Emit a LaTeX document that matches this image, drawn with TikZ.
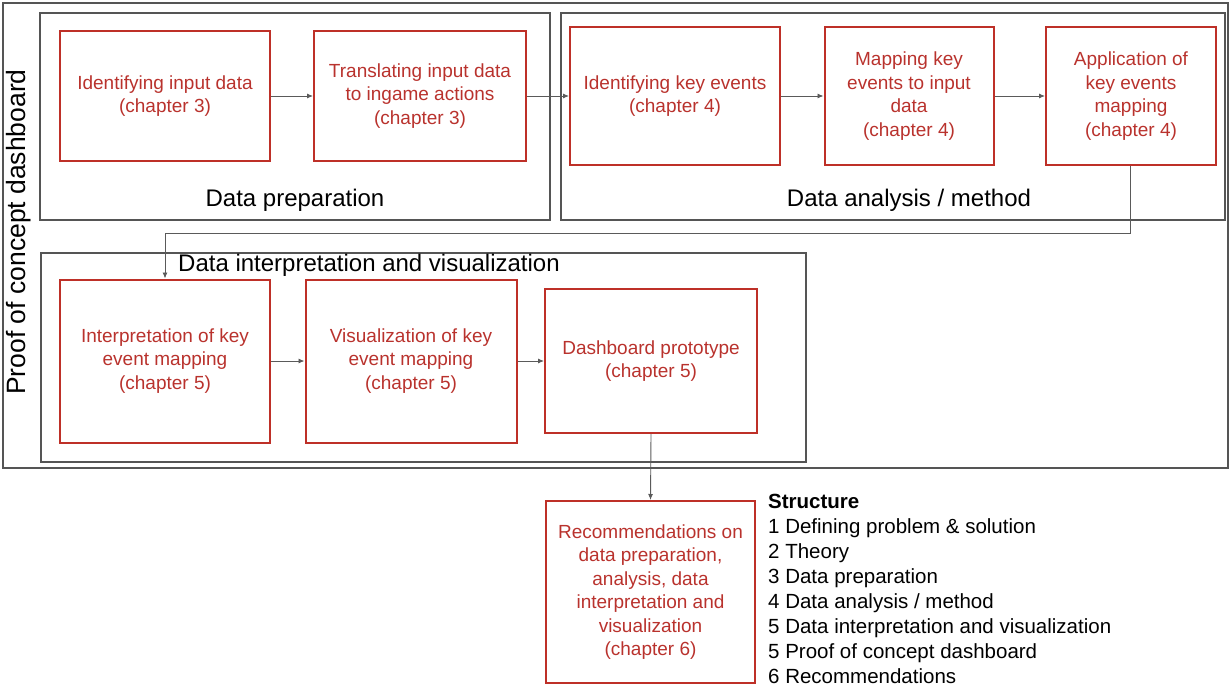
\documentclass[tikz,border=0pt]{standalone}
\usepackage{fontspec}
\setmainfont{Liberation Sans}
\usetikzlibrary{arrows.meta}
\definecolor{frame}{RGB}{85,85,85}
\definecolor{boxred}{RGB}{190,48,40}
\definecolor{textred}{RGB}{185,50,45}
\definecolor{wire}{RGB}{90,90,90}
\tikzset{
  stagebox/.style={draw=boxred, line width=2pt, text=textred, align=center,
    font=\fontsize{19}{23.5}\selectfont, inner sep=2pt},
  groupframe/.style={draw=frame, line width=2.2pt},
  grouptitle/.style={font=\fontsize{24}{27}\selectfont, inner sep=0pt},
  link/.style={draw=wire, line width=0.9pt, -{Latex[length=6pt,width=5pt]}},
}
\begin{document}
\begin{tikzpicture}[x=1pt,y=-1pt]
\useasboundingbox (0,0) rectangle (1230,685);

% outer frame and the three group frames
\draw[groupframe] (3,3) rectangle (1228,468);
\draw[groupframe] (40,13) rectangle (550,220);
\draw[groupframe] (561,13) rectangle (1225,220);
\draw[groupframe] (41,253) rectangle (806,462);

% group titles
\node[grouptitle, font=\fontsize{26.5}{30}\selectfont, rotate=90] (poc) at (19,232) {Proof of concept dashboard};
\node[grouptitle] (tprep) at (295,200) {Data preparation};
\node[grouptitle] (tana) at (909,200) {Data analysis / method};
\node[grouptitle, anchor=west] (tint) at (178,265) {Data interpretation and visualization};

% stages
\node[stagebox, minimum width=210pt, minimum height=129pt] (b1) at (165,96)
  {Identifying input data\\(chapter 3)};
\node[stagebox, minimum width=212pt, minimum height=129pt] (b2) at (420,96)
  {Translating input data\\to ingame actions\\(chapter 3)};
\node[stagebox, minimum width=210pt, minimum height=137pt] (b3) at (675,96)
  {Identifying key events\\(chapter 4)};
\node[stagebox, minimum width=169pt, minimum height=137pt] (b4) at (909,96)
  {Mapping key\\events to input\\data\\(chapter 4)};
\node[stagebox, minimum width=170pt, minimum height=137pt] (b5) at (1131,96)
  {Application of\\key events\\mapping\\(chapter 4)};
\node[stagebox, minimum width=210pt, minimum height=163pt] (b6) at (165,361)
  {Interpretation of key\\event mapping\\(chapter 5)};
\node[stagebox, minimum width=211pt, minimum height=163pt] (b7) at (411,361)
  {Visualization of key\\event mapping\\(chapter 5)};
\node[stagebox, minimum width=212pt, minimum height=144pt] (b8) at (651,361)
  {Dashboard prototype\\(chapter 5)};
\node[stagebox, minimum width=209pt, minimum height=182pt] (b9) at (650.5,592)
  {Recommendations on\\data preparation,\\analysis, data\\interpretation and\\visualization\\(chapter 6)};

% connectors
\draw[link] (b1) -- (b2);
\draw[link] (b2) -- (b3);
\draw[link] (b3) -- (b4);
\draw[link] (b4) -- (b5);
\draw[link] (b5.south -| 1130,0) |- (165,233) -- (b6.north);
\draw[link] (b6) -- (b7);
\draw[link] (b7) -- (b8);
\draw[link] (b8.south) -- (b9.north);

% chapter structure list
\node[anchor=north west, align=left, inner sep=0pt,
      font=\fontsize{20.5}{25}\selectfont] (structure) at (768,494)
  {\textbf{Structure}\\
   1 Defining problem \& solution\\
   2 Theory\\
   3 Data preparation\\
   4 Data analysis / method\\
   5 Data interpretation and visualization\\
   5 Proof of concept dashboard\\
   6 Recommendations};
\end{tikzpicture}
\end{document}
